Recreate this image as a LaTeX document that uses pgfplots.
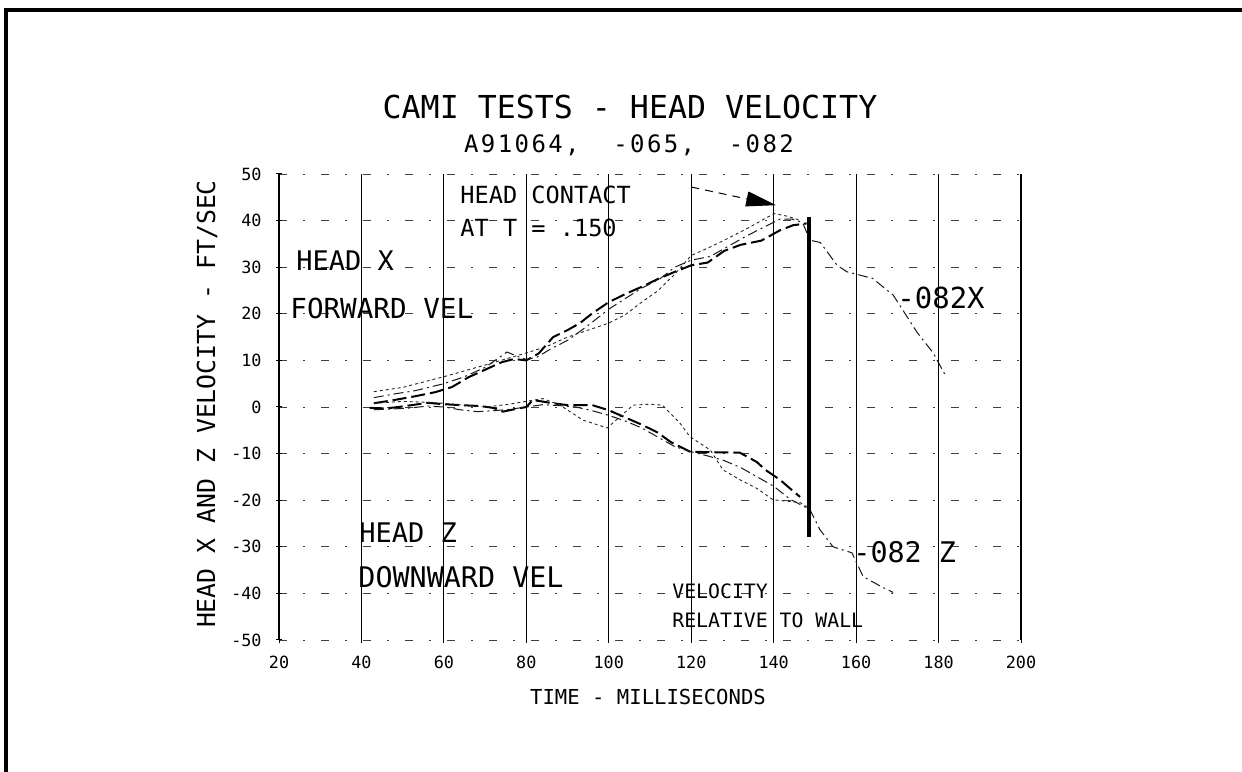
\documentclass[border=0pt]{standalone}
\usepackage{fontspec}
\setmainfont{DejaVu Sans Mono}
\usepackage{graphicx}
\usepackage{pgfplots}
\pgfplotsset{compat=1.18}
\usetikzlibrary{arrows.meta}
\newcommand{\fs}[1]{\fontsize{#1}{#1}\selectfont}
\begin{document}
\begin{tikzpicture}
\path[use as bounding box] (0,0) rectangle (621pt,385.5pt);
\draw[line width=2pt] (3pt,-2pt) -- (3pt,380.5pt) -- (623pt,380.5pt);
\begin{axis}[
  at={(139.5pt,65.5pt)}, anchor=south west,
  width=371pt, height=233pt, scale only axis,
  xmin=20, xmax=200, ymin=-50, ymax=50,
  axis x line*=bottom, axis y line*=left,
  x axis line style={draw=none},
  y axis line style={black, line width=0.8pt},
  xtick={20,40,...,200},
  xticklabels={20,40,60,80,100,120,140,160,180,200},
  ytick={-50,-40,...,50},
  yticklabels={-50,-40,-30,-20,-10,0,10,20,30,40,50},
  tick align=center, major tick length=3pt,
  tick style={black, line width=0.5pt},
  xmajorgrids, ymajorgrids,
  x grid style={black, line width=0.6pt},
  y grid style={black!75, line width=0.4pt, dash pattern=on 4pt off 8pt on 1pt off 8pt},
  xticklabel style={font=\fs{8.4}, inner sep=0pt, anchor=north, yshift=-6.5pt},
  yticklabel style={font=\fs{8.4}, inner sep=0pt, anchor=east, xshift=-7pt},
  clip=false,
]
% head X velocity
\addplot[black, line width=1pt, dash pattern=on 7pt off 2.5pt] coordinates {
(43,0.8) (48,1.5) (53,2.3) (58,3.2) (62,4.3) (66,6.4) (70,8) (74,9.6) (77,10.3) (80,10) (83,11.5) (86.5,15) (90,16.5) (93,18) (96,20.1) (100,22.5) (104.4,24.4) (108,25.8) (112,27.5) (116,29) (120,30.4) (124,31) (128,33.5) (132,34.8) (137,35.7) (141.5,37.9) (144.7,39) (148,39.4)};
\addplot[black!85, line width=0.45pt, dash pattern=on 1.5pt off 1.5pt] coordinates {
(43,3.3) (50,4.2) (60,6.5) (70,9) (80,11.6) (85,13) (90,15) (95,16.5) (100,18) (104,19.8) (108,22.5) (112,25) (116,28.5) (120,32.5) (125,34.5) (129.4,36.4) (134,38.5) (138.4,40.7) (140.3,41.5) (143,41) (146,40.2)};
\addplot[black!90, line width=0.5pt, dash pattern=on 5pt off 2pt on 1pt off 2pt] coordinates {
(43,2) (48,2.8) (53,3.5) (60,5) (65,6.5) (70,8.5) (75.3,11.8) (78,10.8) (80,10.2) (82.6,10.7) (86,12.5) (90,14.3) (95,17.5) (100,21) (104.4,23.5) (108,25.5) (112.4,27.5) (116,30) (120,31.5) (124.6,32.3) (128,34) (133,36.5) (137.4,38.5) (141.5,40.3) (144.5,40.3) (147,39.6) (148.8,35.8) (151.3,35.3) (155.4,30.4) (157.8,29) (164,27.6) (169,24) (174.8,16) (178.7,11.6) (181.6,6.9)};
% head Z velocity
\addplot[black, line width=1pt, dash pattern=on 7pt off 2.5pt] coordinates {
(42,-0.2) (46,-0.3) (49,0) (53,0.5) (56,0.9) (60,0.6) (64,0.4) (69,0.2) (72,-0.2) (74.3,-1) (77,-0.5) (80,0) (81.6,1.5) (86.5,0.8) (90,0.4) (96,0.4) (100,-0.7) (104.4,-2.4) (108,-3.8) (111.7,-5.4) (115,-7.5) (119.7,-9.6) (125,-9.7) (131.8,-9.8) (135.9,-11.8) (138,-13.5) (141.5,-15.6) (144,-17.5) (146.4,-19.3)};
\addplot[black!85, line width=0.45pt, dash pattern=on 1.5pt off 1.5pt] coordinates {
(43,0.8) (50,1.2) (56,1) (60,0.8) (66,0.3) (70,0) (75,0.5) (80,1.2) (84,1.8) (88,0.5) (93.7,-2.8) (99.6,-4.5) (102.7,-2.1) (105.9,0.4) (110,0.6) (113,0.4) (117.3,-3.5) (119.7,-6.4) (124.6,-9.2) (127.7,-13.5) (131.8,-15.6) (136,-17.5) (139.8,-19.9) (146.4,-20.5) (149,-22)};
\addplot[black!90, line width=0.5pt, dash pattern=on 5pt off 2pt on 1pt off 2pt] coordinates {
(43,-0.6) (48,-0.4) (52,-0.2) (56,0.2) (60,0) (64,-0.6) (68,-1) (72,-0.8) (76,-0.5) (80,0) (84,0.5) (88,0.3) (92,0) (96,-0.8) (100,-1.8) (104,-3) (108,-4.5) (112,-6.5) (116,-8.5) (120,-9.6) (124,-10.5) (128,-11.5) (132,-13) (136,-15) (140,-17) (144,-19.8) (148.8,-22) (151.2,-26.3) (154.4,-30) (159,-31.3) (161.7,-36.4) (166,-38.5) (169,-39.8)};
% head contact arrow and wall marker
\addplot[black, line width=0.5pt, dash pattern=on 4pt off 3pt, -{Triangle[length=15pt,width=7.5pt]}] coordinates {(120,47.2) (140.6,43.3)};
\addplot[black, line width=1.7pt] coordinates {(148.6,40.7) (148.6,-27.8)};
\end{axis}
% titles and labels
\node[anchor=base, inner sep=0pt] at (315pt,326pt) {\fs{15.8}CAMI TESTS - HEAD VELOCITY};
\node[anchor=base, inner sep=0pt] at (314.5pt,309pt) {\fs{12}\addfontfeature{LetterSpace=10}A91064,\ \ -065,\ \ -082};
\node[rotate=90, inner sep=0pt] at (103.5pt,183.5pt) {\fs{12.4}HEAD X AND Z VELOCITY - FT/SEC};
\node[anchor=base, inner sep=0pt] at (324pt,33pt) {\fs{10.3}TIME - MILLISECONDS};
% annotations
\node[anchor=base west, inner sep=0pt] at (230pt,283.5pt) {\fs{11.8}HEAD CONTACT};
\node[anchor=base west, inner sep=0pt] at (230pt,267pt) {\fs{11.8}AT T = .150};
\node[anchor=base west, inner sep=0pt] at (148pt,250pt) {\fs{13.5}HEAD X};
\node[anchor=base west, inner sep=0pt] at (145pt,226pt) {\fs{13.8}FORWARD VEL};
\node[anchor=base west, inner sep=0pt] at (179.5pt,114pt) {\fs{13.5}HEAD Z};
\node[anchor=base west, inner sep=0pt] at (179pt,91.5pt) {\fs{14.2}DOWNWARD VEL};
\node[anchor=base west, inner sep=0pt] at (448.5pt,231pt) {\fs{14.5}-082X};
\node[anchor=base west, inner sep=0pt] at (426.5pt,104pt) {\fs{14.2}-082 Z};
\node[anchor=base west, inner sep=0pt] at (336pt,86pt) {\fs{9.9}VELOCITY};
\node[anchor=base west, inner sep=0pt] at (336pt,71.5pt) {\fs{9.9}RELATIVE TO WALL};
\end{tikzpicture}
\end{document}
